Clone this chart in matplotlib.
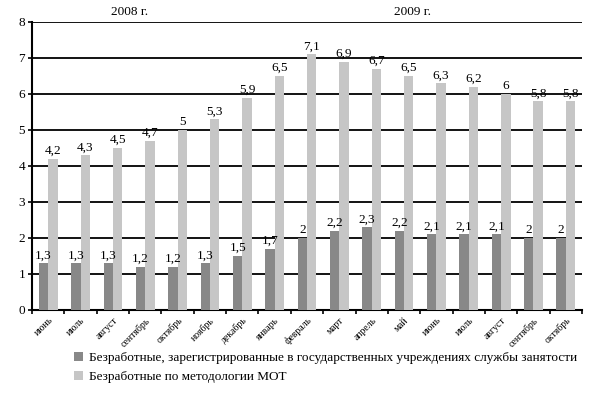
import matplotlib
matplotlib.use("Agg")
import matplotlib.pyplot as plt
import numpy as np

plt.rcParams['font.family'] = ['Liberation Serif', 'DejaVu Serif']

months = ["июнь", "июль", "август", "сентябрь", "октябрь", "ноябрь", "декабрь",
          "январь", "февраль", "март", "апрель", "май", "июнь", "июль", "август",
          "сентябрь", "октябрь"]
registered = [1.3, 1.3, 1.3, 1.2, 1.2, 1.3, 1.5, 1.7, 2, 2.2, 2.3, 2.2, 2.1, 2.1, 2.1, 2, 2]
ilo = [4.2, 4.3, 4.5, 4.7, 5, 5.3, 5.9, 6.5, 7.1, 6.9, 6.7, 6.5, 6.3, 6.2, 6, 5.8, 5.8]
series_names = ["Безработные, зарегистрированные в государственных учреждениях службы занятости",
                "Безработные по методологии МОТ"]
year_labels = ["2008 г.", "2009 г."]

def fmt(v):
    s = ("%g" % v).replace(".", ",")
    return s

fig = plt.figure(figsize=(6.13, 3.95), dpi=100)
ax = fig.add_axes([32/613, 1-310/395, 550/613, 288/395])

x = np.arange(len(months))
w = 0.29
dark = "#888888"
light = "#c6c6c6"
b1 = ax.bar(x - w/2, registered, width=w, color=dark, zorder=3, label=series_names[0])
b2 = ax.bar(x + w/2, ilo, width=w, color=light, zorder=3, label=series_names[1])

for xi, v in zip(x, registered):
    ax.text(xi - w/2, v + 0.05, fmt(v), ha="center", va="bottom", fontsize=9.5, zorder=4)
for xi, v in zip(x, ilo):
    ax.text(xi + w/2, v + 0.05, fmt(v), ha="center", va="bottom", fontsize=9.5, zorder=4)

ax.set_xlim(-0.5, len(months) - 0.5)
ax.set_ylim(0, 8)
ax.set_yticks(range(0, 9))
ax.yaxis.grid(True, color="black", linewidth=1.3, zorder=1)
ax.set_axisbelow(True)
for s in ["top", "right"]:
    ax.spines[s].set_visible(False)
ax.spines["left"].set_linewidth(1.5)
ax.spines["bottom"].set_linewidth(1.5)
ax.tick_params(axis="y", direction="out", length=3, width=1.2, labelsize=9.5, pad=2)

ax.set_xticks(x)
ax.set_xticklabels(months, rotation=45, ha="right", rotation_mode="anchor", fontsize=7)
ax.tick_params(axis="x", which="major", length=0, pad=4)
ax.set_xticks(np.arange(-0.5, len(months), 1), minor=True)
ax.tick_params(axis="x", which="minor", direction="out", length=3, width=1.2)

fig.text(130/613, 1-12/395, year_labels[0], ha="center", va="center", fontsize=9.5)
fig.text(413/613, 1-12/395, year_labels[1], ha="center", va="center", fontsize=9.5)

fig.legend(handles=[b1, b2], loc="upper left", bbox_to_anchor=(74/613, 1-352/395),
           frameon=False, fontsize=9.5, handlelength=0.7, handleheight=0.7,
           handletextpad=0.4, labelspacing=0.5, borderaxespad=0, borderpad=0)

fig.savefig("out.png", dpi=100)
